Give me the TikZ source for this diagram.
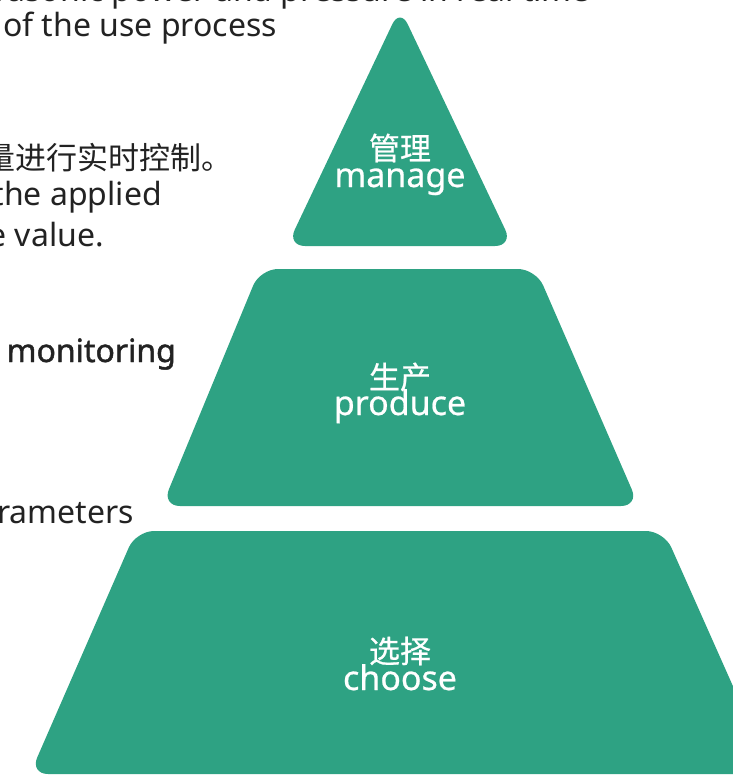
\documentclass[tikz,border=0pt]{standalone}
\usepackage{fontspec}
\setmainfont{Noto Sans}
\newfontfamily\cjk{Noto Sans CJK SC}
\newfontfamily\cjkmed{Noto Sans CJK SC}[FakeBold=0.6]
\newfontfamily\labelfont{Noto Sans}[FakeBold=0.6]
\newfontfamily\notebold{Noto Sans}[FakeBold=1.4]
\usetikzlibrary{positioning}
\definecolor{pyrgreen}{HTML}{2EA283}
\definecolor{sidegray}{HTML}{222222}
\tikzset{
   layer/.style={fill=pyrgreen, rounded corners=18pt},
   layer cn/.style={text=white, inner sep=0pt, anchor=center,
      font=\cjkmed\fontsize{31}{31}\selectfont},
   layer en/.style={text=white, inner sep=0pt, anchor=base,
      font=\labelfont\fontsize{34}{34}\selectfont},
   side text/.style={text=sidegray, inner sep=0pt, anchor=base east,
      font=\fontsize{32}{38}\selectfont},
   side cn/.style={text=sidegray, inner sep=0pt, anchor=east,
      font=\cjk\fontsize{31}{38}\selectfont},
}
\begin{document}
\begin{tikzpicture}[x=1pt,y=-1pt]
        \useasboundingbox (0,0) rectangle (733,776);
        \clip (0,0) rectangle (733,776);

        % Pyramid layers
        \fill[layer] (400,246) -- (513,246) -- (400,8) -- (287,246) -- cycle;
        \fill[layer] (400,506) -- (639,506) -- (536,269) -- (260,269) -- (162,506) -- cycle;
        \fill[layer] (400,774) -- (772,774) -- (664,531) -- (136,531) -- (30,774) -- cycle;

        % Layer labels
        \node[layer cn] (manage cn) at (400,148) {管理};
        \node[layer en] (manage en) at (400,187) {manage};
        \node[layer cn] (produce cn) at (400,377) {生产};
        \node[layer en] (produce en) at (400,415) {produce};
        \node[layer cn] (choose cn) at (400,651) {选择};
        \node[layer en] (choose en) at (400,690) {choose};

        % Side notes (cut off at the edges)
        \node[side text] (note top) at (590,2) {the ultrasonic power and pressure in real time};
        \node[side text] (note use) at (277,37) {of the use process};
        \node[side cn] (note ctrl) at (233,158) {量进行实时控制。};
        \node[side text] (note applied) at (162,205) {the applied};
        \node[side text] (note value) at (104,246) {the value.};
        \node[side text, font=\notebold\fontsize{32}{38}\selectfont] (note monitor) at (176,362) {monitoring};
        \node[side text] (note param) at (134,523) {parameters};
    \end{tikzpicture}
\end{document}
